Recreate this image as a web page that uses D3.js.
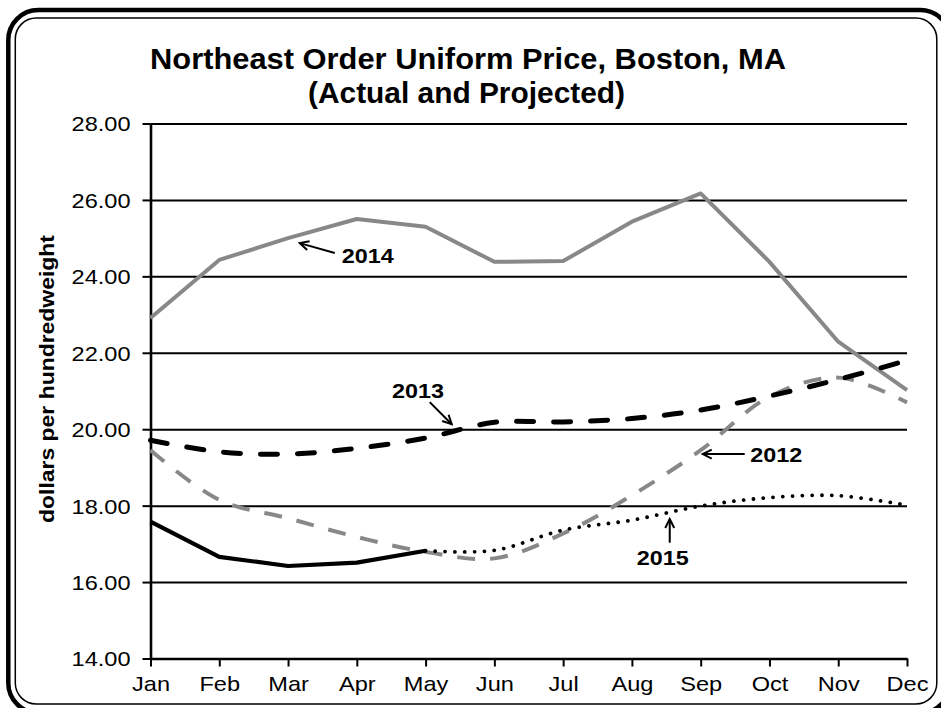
<!DOCTYPE html>
<html><head><meta charset="utf-8">
<script src="https://cdn.jsdelivr.net/npm/d3@7"></script>
<style>html,body{margin:0;padding:0;background:#fff;}svg{display:block;}</style>
</head><body>
<script>
// ---- data ----
const months = ["Jan","Feb","Mar","Apr","May","Jun","Jul","Aug","Sep","Oct","Nov","Dec"];
const yTicks = [14,16,18,20,22,24,26,28];
const s2012 = [19.45,18.15,17.67,17.18,16.79,16.62,17.27,18.27,19.45,20.85,21.35,20.70];
const s2013 = [19.71,19.41,19.35,19.50,19.77,20.18,20.19,20.28,20.50,20.87,21.30,21.80];
const s2014 = [22.91,24.43,25.00,25.50,25.30,24.38,24.40,25.43,26.17,24.38,22.29,21.02];
const s2015ActualMonths = ["Jan","Feb","Mar","Apr","May"];
const s2015Actual = [17.58,16.66,16.42,16.51,16.82];
const s2015ProjMonths = ["May","Jun","Jul","Aug","Sep","Oct","Nov","Dec"];
const s2015Proj = [16.82,16.83,17.36,17.62,17.99,18.21,18.26,18.01];
// annotations in data units (month index, value)
const annotations = [
  {label:"2014", text:[2.78,24.35], anchor:"start", from:[2.68,24.61], to:[2.17,24.87]},
  {label:"2013", text:[3.89,20.81], anchor:"middle", from:[4.06,20.71], to:[4.38,20.13]},
  {label:"2012", text:[8.72,19.14], anchor:"start", from:[8.64,19.35], to:[8.03,19.35]},
  {label:"2015", text:[7.45,16.45], anchor:"middle", from:[7.55,17.03], to:[7.55,17.65]}
];

const W = 941, H = 708;
const svg = d3.select("body").append("svg").attr("width", W).attr("height", H);

// frame
svg.append("rect").attr("x",8.3).attr("y",10).attr("width",942).attr("height",703)
  .attr("rx",30).attr("fill","none").attr("stroke","#000").attr("stroke-width",4.5);
svg.append("rect").attr("x",15.3).attr("y",18).attr("width",921.5).attr("height",686)
  .attr("rx",21).attr("fill","none").attr("stroke","#000").attr("stroke-width",1.5);

const pL = 150.5, pR = 907, pT = 123.5, pB = 658.5;
const x = d3.scalePoint().domain(months).range([pL, pR]);
const xi = d3.scaleLinear().domain([0, 11]).range([pL, pR]);
const y = d3.scaleLinear().domain([14, 28]).range([pB, pT]);

const font = "'Liberation Sans', Arial, sans-serif";

// title
svg.append("text").attr("x",468).attr("y",69).attr("text-anchor","middle")
  .attr("font-family",font).attr("font-weight","bold").attr("font-size",29)
  .attr("textLength",636).attr("lengthAdjust","spacingAndGlyphs")
  .text("Northeast Order Uniform Price, Boston, MA");
svg.append("text").attr("x",466.5).attr("y",103).attr("text-anchor","middle")
  .attr("font-family",font).attr("font-weight","bold").attr("font-size",29)
  .attr("textLength",317).attr("lengthAdjust","spacingAndGlyphs")
  .text("(Actual and Projected)");

// y-axis label
svg.append("text").attr("transform","translate(54,379) rotate(-90)")
  .attr("text-anchor","middle").attr("font-family",font).attr("font-weight","bold")
  .attr("font-size",20).attr("textLength",288).attr("lengthAdjust","spacingAndGlyphs")
  .text("dollars per hundredweight");

// gridlines
const grid = svg.append("g").attr("transform",`translate(${pL},0)`)
  .call(d3.axisLeft(y).tickValues(yTicks.filter(d=>d>14)).tickSize(-(pR-pL)).tickFormat(""));
grid.select(".domain").remove();
grid.selectAll("line").attr("stroke","#000").attr("stroke-width",2);

// y axis
const sx = 1.15;
const yAxis = svg.append("g").attr("transform",`translate(${pL},0)`)
  .call(d3.axisLeft(y).tickValues(yTicks).tickFormat(d3.format(".2f")).tickSize(8).tickSizeOuter(0));
yAxis.select(".domain").attr("stroke","#000").attr("stroke-width",2.6);
yAxis.selectAll("line").attr("stroke","#000").attr("stroke-width",2);
yAxis.selectAll("text").attr("font-family",font).attr("font-size",20.5).attr("fill","#000")
  .attr("x",-20/sx).attr("dy","0.36em").attr("transform",`scale(${sx},1)`);

// x axis
const xAxis = svg.append("g").attr("transform",`translate(0,${pB})`)
  .call(d3.axisBottom(x).tickSize(8).tickSizeOuter(0).tickPadding(11));
xAxis.select(".domain").attr("stroke","#000").attr("stroke-width",2.6);
xAxis.selectAll("line").attr("stroke","#000").attr("stroke-width",2);
xAxis.selectAll("text").attr("font-family",font).attr("font-size",20.5).attr("fill","#000")
  .attr("dy","0.68em").attr("transform",`scale(${sx},1)`);

// lines
const straight = d3.line().x(d=>x(d[0])).y(d=>y(d[1]));
const smooth = d3.line().x(d=>x(d[0])).y(d=>y(d[1])).curve(d3.curveCatmullRom.alpha(0.5));
const zip = (ms, vs) => ms.map((m,i)=>[m, vs[i]]);

const gray = "#888888";
svg.append("path").attr("d", straight(zip(months, s2014))).attr("fill","none")
  .attr("stroke",gray).attr("stroke-width",4).attr("stroke-linejoin","round");
svg.append("path").attr("d", smooth(zip(months, s2012))).attr("fill","none")
  .attr("stroke",gray).attr("stroke-width",4).attr("stroke-dasharray","18 15");
svg.append("path").attr("d", smooth(zip(months, s2013))).attr("fill","none")
  .attr("stroke","#000").attr("stroke-width",5).attr("stroke-dasharray","17 20")
  .attr("stroke-linecap","round");
svg.append("path").attr("d", straight(zip(s2015ActualMonths, s2015Actual))).attr("fill","none")
  .attr("stroke","#000").attr("stroke-width",4.2).attr("stroke-linejoin","round");
svg.append("path").attr("d", smooth(zip(s2015ProjMonths, s2015Proj))).attr("fill","none")
  .attr("stroke","#000").attr("stroke-width",3.8).attr("stroke-dasharray","0.01 9.8")
  .attr("stroke-linecap","round");

// arrow marker
svg.append("defs").append("marker").attr("id","arr").attr("markerUnits","userSpaceOnUse")
  .attr("viewBox","-1 -6 12 12").attr("refX",9).attr("refY",0)
  .attr("markerWidth",12).attr("markerHeight",12).attr("orient","auto")
  .append("path").attr("d","M0,-4.5 L9,0 L0,4.5").attr("fill","none")
  .attr("stroke","#000").attr("stroke-width",2);

annotations.forEach(a => {
  svg.append("line").attr("x1",xi(a.from[0])).attr("y1",y(a.from[1]))
    .attr("x2",xi(a.to[0])).attr("y2",y(a.to[1]))
    .attr("stroke","#000").attr("stroke-width",2).attr("marker-end","url(#arr)");
  svg.append("text").attr("x",xi(a.text[0])).attr("y",y(a.text[1]))
    .attr("text-anchor",a.anchor).attr("font-family",font).attr("font-weight","bold")
    .attr("font-size",21).attr("textLength",52).attr("lengthAdjust","spacingAndGlyphs")
    .text(a.label);
});
</script>
</body></html>
